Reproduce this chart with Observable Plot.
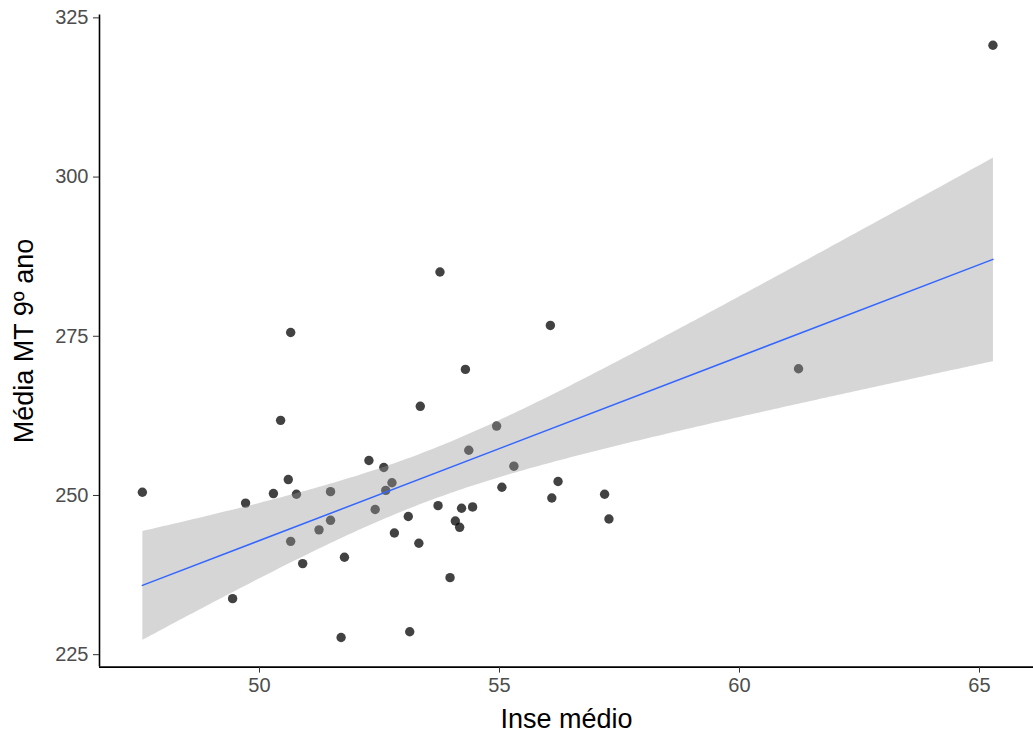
<!DOCTYPE html>
<html>
<head>
<meta charset="utf-8">
<script src="https://cdn.jsdelivr.net/npm/d3@7"></script>
<script src="https://cdn.jsdelivr.net/npm/@observablehq/plot@0.6"></script>
<style>
  html, body { margin: 0; padding: 0; background: #fff; overflow: hidden; }
  #chart svg { display: block; }
</style>
</head>
<body>
<div id="chart"></div>
<script>
// Socioeconomic index (INSE) per school and its 9th-grade mean math score
const inse = [
  47.56, 49.44, 49.71, 50.29, 50.44, 50.60, 50.65, 50.65, 50.77, 50.90,
  51.24, 51.48, 51.48, 51.70, 51.77, 52.28, 52.41, 52.59, 52.63, 52.76,
  52.81, 53.10, 53.13, 53.32, 53.35, 53.72, 53.76, 53.97, 54.08, 54.17,
  54.21, 54.29, 54.36, 54.44, 54.94, 55.05, 55.30, 56.06, 56.09, 56.22,
  57.19, 57.28, 61.23, 65.28
];
const mediaMT = [
  250.5, 233.8, 248.8, 250.3, 261.8, 252.5, 275.6, 242.8, 250.2, 239.3,
  244.6, 250.6, 246.1, 227.7, 240.3, 255.5, 247.8, 254.4, 250.8, 252.0,
  244.1, 246.7, 228.6, 242.5, 264.0, 248.4, 285.1, 237.1, 246.0, 245.0,
  248.0, 269.8, 257.1, 248.2, 260.9, 251.3, 254.6, 276.7, 249.6, 252.2,
  250.2, 246.3, 269.9, 320.7
];
const xTicks = [50, 55, 60, 65];
const yTicks = [225, 250, 275, 300, 325];
const xTitle = "Inse médio";
const yTitle = "Média MT 9º ano";

const data = inse.map((x, i) => ({inse: x, media: mediaMT[i]}));

const font = "'Liberation Sans', Arial, sans-serif";
const xDomain = [46.667, 66.125];
const yDomain = [223.05, 325.45];

const chart = Plot.plot({
  width: 1033,
  height: 733,
  marginLeft: 99,
  marginRight: 0,
  marginTop: 14.5,
  marginBottom: 66.4,
  style: {fontFamily: font, background: "#fff", overflow: "visible"},
  x: {domain: xDomain},
  y: {domain: yDomain},
  marks: [
    // observations
    Plot.dot(data, {x: "inse", y: "media", r: 4.7, fill: "#000", fillOpacity: 0.74, stroke: "none"}),
    // OLS fit with 95% confidence band
    Plot.linearRegressionY(data, {
      x: "inse", y: "media",
      stroke: "#3366FF", strokeWidth: 1.5,
      fill: "#999999", fillOpacity: 0.4,
      ci: 0.95
    }),
    // axis lines
    Plot.ruleX([xDomain[0]], {stroke: "#000", strokeWidth: 1.6}),
    Plot.ruleY([yDomain[0]], {stroke: "#000", strokeWidth: 1.6}),
    Plot.axisX(xTicks, {
      tickSize: 6, tickPadding: 5, fontSize: 20,
      stroke: "#333", fill: "#4d4d4d", label: null
    }),
    Plot.axisY(yTicks, {
      tickSize: 6, tickPadding: 5, fontSize: 20,
      stroke: "#333", fill: "#4d4d4d", label: null
    }),
    // axis titles
    Plot.text([xTitle], {
      text: d => d, frameAnchor: "bottom", dy: 52, textAnchor: "middle",
      fontSize: 27, fill: "#000", lineAnchor: "middle"
    }),
    Plot.text([yTitle], {
      text: d => d, frameAnchor: "left", dx: -75, rotate: -90, textAnchor: "middle",
      fontSize: 27, fill: "#000", lineAnchor: "middle"
    })
  ]
});

document.getElementById("chart").appendChild(chart);
</script>
</body>
</html>
